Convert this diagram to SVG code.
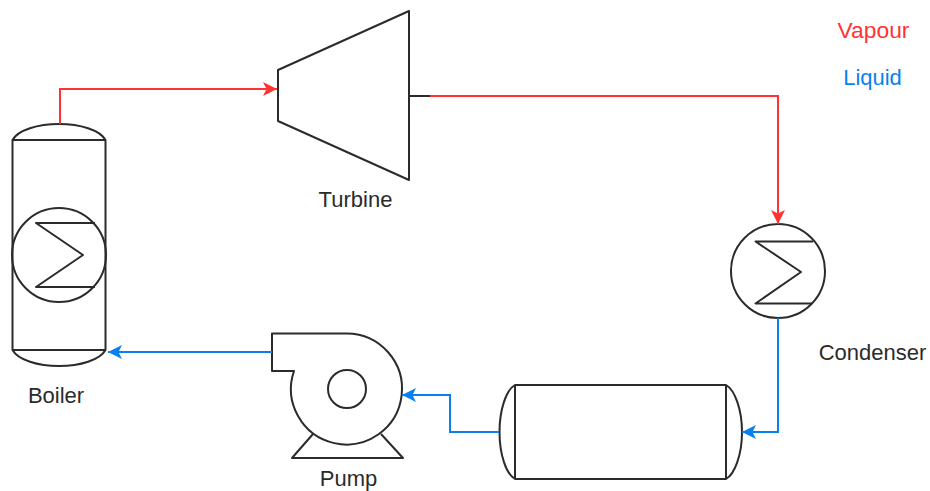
<svg xmlns="http://www.w3.org/2000/svg" width="930" height="491" viewBox="0 0 930 491">
<style>
.s{fill:none;stroke:#2b2b2b;stroke-width:2;stroke-linejoin:round}
.w{fill:#fff;stroke:#2b2b2b;stroke-width:2;stroke-linejoin:round}
.r{fill:none;stroke:#f33;stroke-width:2}
.b{fill:none;stroke:#0a7ff0;stroke-width:2}
text{font-family:"Liberation Sans",Arial,sans-serif;font-size:22px;fill:#2b2b2b;text-anchor:middle}
</style>
<defs>
<marker id="ar" markerUnits="userSpaceOnUse" markerWidth="18" markerHeight="18" refX="15" refY="9" orient="auto"><path d="M1 2L15 9L1 16L4.500 9Z" fill="#f33"/></marker>
<marker id="ab" markerUnits="userSpaceOnUse" markerWidth="18" markerHeight="18" refX="15" refY="9" orient="auto"><path d="M1 2L15 9L1 16L4.500 9Z" fill="#0a7ff0"/></marker>
</defs>
<g id="boiler">
<path class="w" d="M12.500 140C18 130 38 124 59 124C80 124 100 130 105.500 140V350C100 360 80 366 59 366C38 366 18 360 12.500 350Z"/>
<path class="s" d="M12.500 140H105.500M12.500 350H105.500"/>
<circle class="s" cx="59" cy="255" r="47"/>
<path class="s" d="M95 223H36L83 255L36 287H95"/>
<text x="56" y="403">Boiler</text>
</g>
<g id="turbine">
<path class="w" d="M278 70L409 11V180L278 121Z"/>
<text x="355.500" y="207">Turbine</text>
</g>
<g id="condenser">
<circle class="s" cx="778" cy="271" r="47"/>
<path class="s" d="M813 241.500H755.500L801 272L755.500 303.500H812"/>
<text x="872.500" y="360">Condenser</text>
</g>
<g id="tank">
<path class="w" d="M515 385H726C735 390 742 410 742 432C742 454 735 474 726 479H515C506 474 499.500 454 499.500 432C499.500 410 506 390 515 385Z"/>
<path class="s" d="M515 385V479M726 385V479"/>
</g>
<g id="pump">
<path class="s" d="M313 434L292 458H403L381 434"/>
<path class="w" d="M272 333.500H347A55.500 55.500 0 1 1 294 371H272Z"/>
<circle class="s" cx="347" cy="389" r="19"/>
<text x="348.500" y="486">Pump</text>
</g>
<g id="connectors">
<path class="r" d="M60 124V89H277" marker-end="url(#ar)"/>
<path d="M409 96H430" class="s"/>
<path class="r" d="M430 96H778V224" marker-end="url(#ar)"/>
<path class="b" d="M778 318V432H742" marker-end="url(#ab)"/>
<path class="b" d="M499 432H450V395H402" marker-end="url(#ab)"/>
<path class="b" d="M272 352H108" marker-end="url(#ab)"/>
</g>
<g id="legend">
<text x="873.500" y="38" style="fill:#f33;font-size:22.800px">Vapour</text>
<text x="872.500" y="85" style="fill:#0a7ff0">Liquid</text>
</g>
</svg>
